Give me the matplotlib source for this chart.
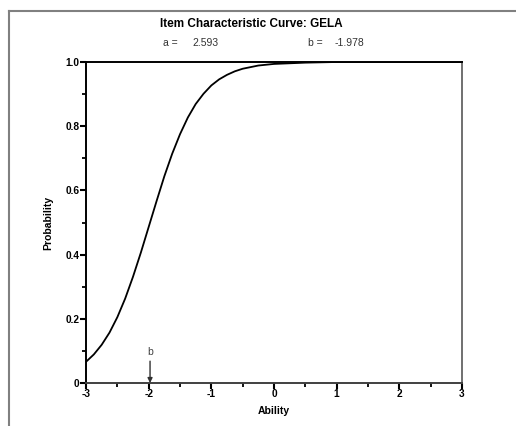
import matplotlib
matplotlib.use('Agg')
import matplotlib.pyplot as plt
from matplotlib.lines import Line2D

# item parameters shown in the header
item_name = 'GELA'
a_param = 2.593
b_param = -1.978

# curve
ability = [-3.0, -2.875, -2.75, -2.625, -2.5, -2.375, -2.25, -2.125, -2.0,
           -1.875, -1.75, -1.625, -1.5, -1.375, -1.25, -1.125, -1.0,
           -0.875, -0.75, -0.625, -0.5, -0.25, 0.0, 0.5, 1.0, 1.5, 2.0, 2.5, 3.0]
probability = [0.066, 0.089, 0.119, 0.157, 0.205, 0.263, 0.331, 0.406, 0.486,
               0.566, 0.644, 0.714, 0.775, 0.827, 0.869, 0.901, 0.927,
               0.946, 0.960, 0.971, 0.979, 0.989, 0.994, 0.998, 1.0, 1.0, 1.0, 1.0, 1.0]

xticks = [-3, -2, -1, 0, 1, 2, 3]
yticks = [0, 0.2, 0.4, 0.6, 0.8, 1.0]
ytick_labels = ['0', '0.2', '0.4', '0.6', '0.8', '1.0']

plt.rcParams['font.family'] = ['Liberation Sans', 'DejaVu Sans']
plt.rcParams['axes.unicode_minus'] = False
narrow = ['Liberation Sans Narrow', 'Liberation Sans', 'DejaVu Sans']

W, H = 516, 426
fig = plt.figure(figsize=(W / 100, H / 100), dpi=100)
ax = fig.add_axes([86 / W, 1 - 383 / H, (462 - 86) / W, (383 - 62) / H])

ax.plot(ability, probability, color='black', lw=1.3)
ax.set_xlim(-3, 3)
ax.set_ylim(0, 1)

ax.set_xticks(xticks)
ax.set_xticks([-2.5, -1.5, -0.5, 0.5, 1.5, 2.5], minor=True)
ax.set_yticks(yticks)
ax.set_yticklabels(ytick_labels)
ax.set_yticks([0.1, 0.3, 0.5, 0.7, 0.9], minor=True)
ax.tick_params(which='major', length=4, width=1.5, pad=0.5, labelsize=7.3, color='black')
ax.tick_params(which='minor', length=3, width=1.3, color='black')
for lab in ax.get_xticklabels() + ax.get_yticklabels():
    lab.set_fontweight('bold')

ax.spines['top'].set_color('black')
ax.spines['left'].set_color('black')
ax.spines['right'].set_color('#707070')
ax.spines['bottom'].set_color('#404040')
for s in ax.spines.values():
    s.set_linewidth(1.4)

ax.set_xlabel('Ability', fontsize=7.5, fontweight='bold', labelpad=5)
ax.set_ylabel('Probability', fontsize=7.5, fontweight='bold', labelpad=9)

# b marker
ax.annotate('', xy=(b_param, 0), xytext=(b_param, 0.068),
            arrowprops=dict(arrowstyle='-|>', color='#303030', lw=1, mutation_scale=7,
                            shrinkA=0, shrinkB=0))
ax.text(b_param, 0.08, 'b', ha='center', va='bottom', fontsize=7.5, color='#404040')

# header
fig.text(251 / W, 1 - 24 / H, 'Item Characteristic Curve: ' + item_name, ha='center', va='center',
         fontsize=8.5, fontweight='bold', family=narrow)
fig.text(163 / W, 1 - 43 / H, 'a =', ha='left', va='center', fontsize=7.5, color='#333333')
fig.text(192 / W, 1 - 43 / H, '%.3f' % a_param, ha='left', va='center', fontsize=7.5, color='#333333')
fig.text(308 / W, 1 - 43 / H, 'b =', ha='left', va='center', fontsize=7.5, color='#333333')
fig.text(335 / W, 1 - 43 / H, '%.3f' % b_param, ha='left', va='center', fontsize=7.5, color='#333333')

# outer frame (top and left edges visible)
fig.add_artist(Line2D([9 / W, 1], [1 - 11 / H, 1 - 11 / H], transform=fig.transFigure,
                      color='#808080', lw=1.5))
fig.add_artist(Line2D([9 / W, 9 / W], [0, 1 - 11 / H], transform=fig.transFigure,
                      color='#808080', lw=1.5))

fig.savefig('out.png', dpi=100)
